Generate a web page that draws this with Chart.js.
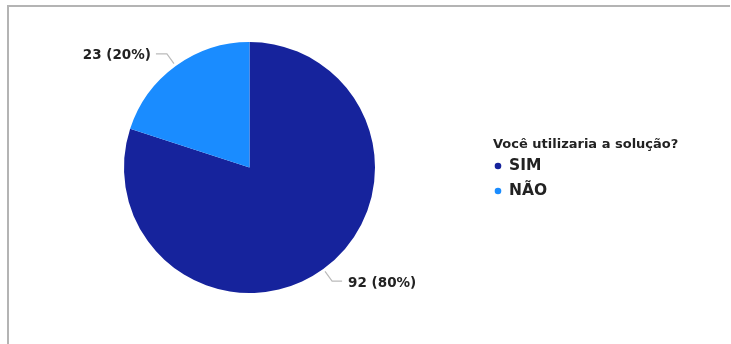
<!DOCTYPE html>
<html>
<head>
<meta charset="utf-8">
<script src="https://cdn.jsdelivr.net/npm/chart.js@4"></script>
<style>
  html, body { margin: 0; padding: 0; background: #fff; }
  #wrap { position: relative; width: 731px; height: 344px; }
</style>
</head>
<body>
<div id="wrap"><canvas id="pieChart" width="731" height="344"></canvas></div>
<script>
  const legendTitle = 'Você utilizaria a solução?';
  const categories = ['SIM', 'NÃO'];
  const counts = [92, 23];
  const percents = [80, 20];
  const colors = ['#16239c', '#1a8cff'];

  // moldura cinza (topo e esquerda) como na imagem original
  const framePlugin = {
    id: 'frame',
    beforeDraw(chart) {
      const ctx = chart.ctx;
      ctx.save();
      ctx.fillStyle = '#fff';
      ctx.fillRect(0, 0, chart.width, chart.height);
      ctx.strokeStyle = '#b4b4b4';
      ctx.lineWidth = 2;
      ctx.beginPath();
      ctx.moveTo(8, 344);
      ctx.lineTo(8, 6);
      ctx.lineTo(730, 6);
      ctx.stroke();
      ctx.restore();
    }
  };

  // rótulos com linha guia
  const labelPlugin = {
    id: 'sliceLabels',
    afterDatasetsDraw(chart) {
      const ctx = chart.ctx;
      const meta = chart.getDatasetMeta(0);
      ctx.save();
      ctx.font = 'bold 13.5px "DejaVu Sans", sans-serif';
      ctx.fillStyle = '#222';
      ctx.strokeStyle = '#bbb';
      ctx.lineWidth = 1.2;
      ctx.textBaseline = 'middle';
      meta.data.forEach((arc, i) => {
        const r = arc.outerRadius;
        const ang = (arc.startAngle + arc.endAngle) / 2;
        const cos = Math.cos(ang), sin = Math.sin(ang);
        const p0 = { x: arc.x + cos * (r + 3), y: arc.y + sin * (r + 3) };
        const p1 = { x: arc.x + cos * (r + 15), y: arc.y + sin * (r + 15) };
        const right = cos >= 0;
        const p2 = { x: p1.x + (right ? 10 : -11), y: p1.y };
        ctx.beginPath();
        ctx.moveTo(p0.x, p0.y);
        ctx.lineTo(p1.x, p1.y);
        ctx.lineTo(p2.x, p2.y);
        ctx.stroke();
        ctx.textAlign = right ? 'left' : 'right';
        const txt = counts[i] + ' (' + percents[i] + '%)';
        ctx.fillText(txt, p2.x + (right ? 6 : -5), p2.y + 2);
      });
      ctx.restore();
    }
  };

  // legenda à direita
  const legendPlugin = {
    id: 'sideLegend',
    afterDraw(chart) {
      const ctx = chart.ctx;
      const x = 493;
      ctx.save();
      ctx.textBaseline = 'middle';
      ctx.textAlign = 'left';
      ctx.fillStyle = '#222';
      ctx.font = 'bold 13px "DejaVu Sans", sans-serif';
      ctx.fillText(legendTitle, x, 145);
      chart.data.labels.forEach((lab, i) => {
        const y = 166 + i * 25;
        ctx.beginPath();
        ctx.fillStyle = chart.data.datasets[0].backgroundColor[i];
        ctx.arc(x + 5, y, 3.3, 0, Math.PI * 2);
        ctx.fill();
        ctx.fillStyle = '#222';
        ctx.font = 'bold 15.5px "DejaVu Sans", sans-serif';
        ctx.fillText(lab, x + 16, y);
      });
      ctx.restore();
    }
  };

  const pieChart = new Chart(document.getElementById('pieChart').getContext('2d'), {
    type: 'pie',
    data: {
      labels: categories,
      datasets: [{
        data: counts,
        backgroundColor: colors,
        borderWidth: 0,
      }]
    },
    options: {
      responsive: false,
      animation: false,
      layout: {
        padding: { left: 124, right: 356, top: 42, bottom: 51 }
      },
      plugins: {
        legend: { display: false },
        tooltip: { enabled: false },
      }
    },
    plugins: [framePlugin, labelPlugin, legendPlugin]
  });
</script>
</body>
</html>
